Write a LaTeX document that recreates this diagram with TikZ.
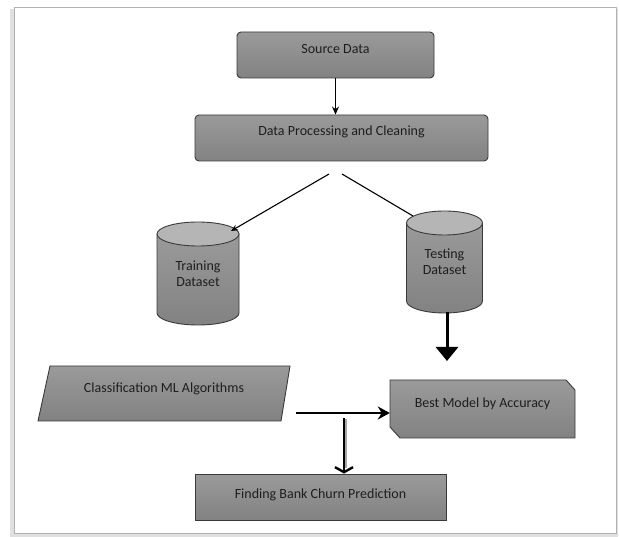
\documentclass[tikz,border=0pt]{standalone}
\usepackage{fontspec}
\setmainfont{Carlito}
\usetikzlibrary{arrows.meta}
\definecolor{boxtop}{HTML}{9A9A9A}
\definecolor{boxbot}{HTML}{828282}
\definecolor{edge}{HTML}{3A3A3A}
\definecolor{ink}{HTML}{1E1E1E}
\definecolor{captop}{HTML}{B5B5B5}
\tikzset{
  boxshade/.style={top color=boxtop, bottom color=boxbot, draw=edge, line width=0.9pt},
  procbox/.style={boxshade, rectangle, inner sep=0pt},
  lbl/.style={text=ink, font=\fontsize{14}{16}\selectfont, align=center, inner sep=0pt},
  anchorbox/.style={rectangle, inner sep=0pt},
  thin arrow/.style={draw=black, line width=1.2pt, -{Stealth[length=8pt,width=7pt]}},
  plain line/.style={draw=black, line width=1.1pt},
  fat arrow/.style={draw=black, line width=3pt, -{Triangle[length=14pt,width=22pt]}},
  mid arrow/.style={draw=black, line width=2pt, -{Stealth[length=12pt,width=13pt]}},
  barb arrow/.style={draw=black, line width=2.4pt, -{Straight Barb[length=5pt,width=18pt]}},
}
% cylinder: #1 centre x, #2 top-cap centre y, #3 bottom-cap centre y, #4 x radius
\newcommand{\drumshape}[4]{%
  \path[boxshade] (#1-#4,#2) -- (#1-#4,#3)
     arc[start angle=180, end angle=0, x radius=#4, y radius=12] -- (#1+#4,#2) -- cycle;
  \draw[fill=captop, draw=edge, line width=0.9pt] (#1,#2) ellipse[x radius=#4, y radius=12];
}
\begin{document}
\begin{tikzpicture}[x=1pt,y=-1pt]
\useasboundingbox (0,0) rectangle (619,537);
% outer frame with soft shadow
\fill[black!25] (11,11) rectangle (614,536);
\fill[black!12] (10,9) rectangle (618,537);
\draw[fill=white, draw=black!30, line width=1pt] (14,8) rectangle (616,533);

% boxes
\node[procbox, rounded corners=4pt, minimum width=197pt, minimum height=46pt,
      label={[lbl, yshift=6pt]center:Source Data}] (src) at (335.5,55) {};
\node[procbox, rounded corners=4pt, minimum width=293pt, minimum height=46pt,
      label={[lbl, yshift=6pt]center:Data Processing and Cleaning}] (proc) at (341.5,138) {};

% training cylinder
\drumshape{198}{234}{313}{41}
\node[anchorbox, minimum width=82pt, minimum height=103pt, label={[lbl]center:Training\\Dataset}] (train) at (198,273.5) {};

% testing cylinder
\drumshape{444.5}{223}{301}{38}
\node[anchorbox, minimum width=76pt, minimum height=102pt, label={[lbl]center:Testing\\Dataset}] (test) at (444.5,262) {};

% classification parallelogram
\path[boxshade] (50,366) -- (290,366) -- (281,421) -- (38,421) -- cycle;
\node[anchorbox, minimum width=252pt, minimum height=55pt, label={[lbl, yshift=5pt]center:Classification ML Algorithms}] (cls) at (164,393.5) {};

% best model, snipped corners
\path[boxshade] (390,380) -- (566,380) -- (575,390) -- (575,438) -- (400,438) -- (390,427) -- cycle;
\node[anchorbox, minimum width=185pt, minimum height=58pt, label={[lbl, yshift=5pt]center:Best Model by Accuracy}] (best) at (482.5,409) {};

% final box
\node[procbox, minimum width=251pt, minimum height=46pt,
      label={[lbl, yshift=2pt]center:Finding Bank Churn Prediction}] (pred) at (320.5,497) {};

% connectors
\coordinate (split l) at (329,174);
\coordinate (split r) at (342,174);
\coordinate (train in) at (231,231);
\coordinate (test in) at (413,216);
\draw[thin arrow] (src.south) -- (proc.north -| src.south);
\draw[plain line, -{Stealth[length=7pt,width=6pt]}] (split l) -- (train in);
\draw[plain line] (split r) -- (test in);
\coordinate (fat from) at (447,312);
\coordinate (fat to) at (447,361);
\draw[fat arrow] (fat from) -- (fat to);
\coordinate (h from) at (296,413);
\draw[mid arrow] (h from) -- (best.west |- h from);
\coordinate (v from) at (344,418);
\draw[black!35, line width=4pt] (345,419) -- (345,468);
\draw[barb arrow] (v from) -- (pred.north -| v from);
\end{tikzpicture}
\end{document}
